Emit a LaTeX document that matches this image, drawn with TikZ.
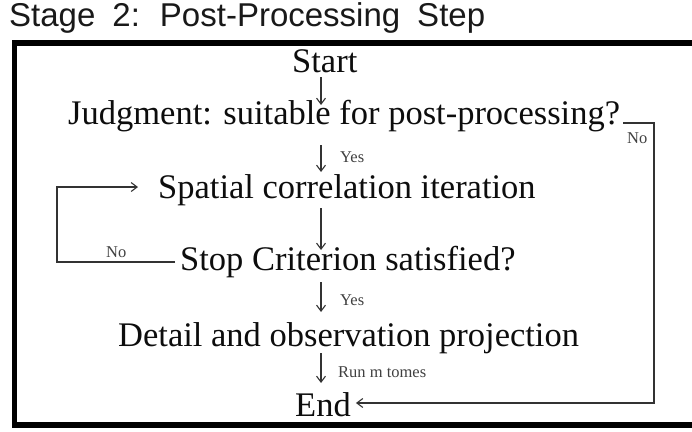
\documentclass[tikz,border=0pt]{standalone}
\usepackage{fontspec}
\setmainfont{Liberation Serif}
\newfontfamily\titlefont{Liberation Sans}
\usetikzlibrary{arrows.meta}

\begin{document}
\begin{tikzpicture}[x=1pt,y=-1pt,
  stepnode/.style={inner sep=0pt, anchor=base west, text=black!95,
    font=\fontsize{34.5}{40}\selectfont},
  smalllabel/.style={inner sep=0pt, anchor=base west, text=black!75,
    font=\fontsize{16.5}{19}\selectfont},
  link/.style={draw=black!80, line width=1.2pt},
  arr/.style={link, -{Straight Barb[length=6pt,width=9pt,line width=1.1pt]}},
  frame/.style={draw=black, line width=5.5pt}]
\clip (0,0) rectangle (692,431);

% heading, set with wide word spaces
\node[inner sep=0pt, anchor=base west, text=black!90,
  font=\titlefont\fontsize{33}{38}\selectfont]
  (title) at (9,26) {\spaceskip 17pt\relax Stage 2: Post-Processing Step};

% outer frame
\draw[frame] (14.5,43) rectangle (697,425);

% steps
\node[stepnode] (start) at (292,72) {Start};
\node[stepnode] (judg)  at (68,124) {Judgment: suitable for post-processing?};
\node[stepnode] (spat)  at (158,198) {Spatial correlation iteration};
\node[stepnode] (stop)  at (180,270) {Stop Criterion satisfied?};
\node[stepnode] (det)   at (118,346) {Detail and observation projection};
\node[stepnode] (fin)   at (295,416) {End};

% vertical axis of the main flow
\coordinate (ax) at (321,0);

\draw[arr] ([yshift=-5pt]start.base -| ax) -- ([yshift=19pt]judg.base -| ax);
\draw[arr] ([yshift=-21pt]judg.base -| ax) -- ([yshift=26pt]spat.base -| ax);
\draw[arr] ([yshift=-10pt]spat.base -| ax) -- ([yshift=20pt]stop.base -| ax);
\draw[arr] ([yshift=-12pt]stop.base -| ax) -- ([yshift=34pt]det.base -| ax);
\draw[arr] ([yshift=-7pt]det.base -| ax) -- ([yshift=33pt]fin.base -| ax);

\node[smalllabel] (yes1) at (340,162) {Yes};
\node[smalllabel] (yes2) at (340,305) {Yes};
\node[smalllabel] (runm) at (338,377) {Run m tomes};

% iteration loop back to the correlation step
\coordinate (loopL) at (57,0);
\draw[arr] ([xshift=-5pt,yshift=8pt]stop.base west) -| ([yshift=11pt]spat.base -| loopL)
  -- ([xshift=-20pt,yshift=11pt]spat.base west);
\node[smalllabel] (no1) at (106,257) {No};

% skip branch straight to the end
\coordinate (loopR) at (654,0);
\draw[arr] ([xshift=3pt,yshift=1pt]judg.base east) -| ([yshift=13pt]fin.base -| loopR)
  -- ([xshift=5pt,yshift=13pt]fin.base east);
\node[smalllabel] (no2) at (627,143) {No};
\end{tikzpicture}
\end{document}
